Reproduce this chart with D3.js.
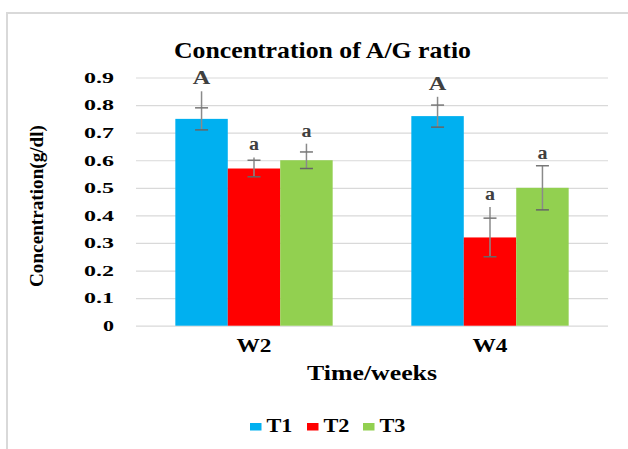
<!DOCTYPE html>
<html>
<head>
<meta charset="utf-8">
<script src="https://cdn.jsdelivr.net/npm/d3@7"></script>
<style>
  body { margin: 0; background: #fff; }
  svg text { font-family: "Liberation Serif", "DejaVu Serif", "Noto Serif", serif !important; font-weight: bold; }
</style>
</head>
<body>
<script>
// data
const weeks = ['W2', 'W4'];
const treatments = ['T1', 'T2', 'T3'];
const colors = ['#00B0F0', '#FF0000', '#92D050'];
const meanT1 = [0.75, 0.76];
const meanT2 = [0.57, 0.32];
const meanT3 = [0.60, 0.50];
// error bars: whisker top, upper cap, lower cap
const topT1 = [0.85, 0.83];
const topT2 = [0.61, 0.43];
const topT3 = [0.66, 0.58];
const hiT1 = [0.79, 0.80];
const hiT2 = [0.60, 0.39];
const hiT3 = [0.63, 0.58];
const loT1 = [0.71, 0.72];
const loT2 = [0.54, 0.25];
const loT3 = [0.57, 0.42];
const lettersT1 = ['A', 'A'];
const lettersT2 = ['a', 'a'];
const lettersT3 = ['a', 'a'];
const yTicks = [0, 0.1, 0.2, 0.3, 0.4, 0.5, 0.6, 0.7, 0.8, 0.9];

const means = [meanT1, meanT2, meanT3];
const tops = [topT1, topT2, topT3];
const his = [hiT1, hiT2, hiT3];
const los = [loT1, loT2, loT3];
const letters = [lettersT1, lettersT2, lettersT3];

// flat table of bars
let bars = [];
weeks.forEach((w, i) => {
  treatments.forEach((t, j) => {
    bars.push({ week: w, t: t, color: colors[j], value: means[j][i],
      top: tops[j][i], hi: his[j][i], lo: los[j][i], letter: letters[j][i] });
  });
});

const W = 628, H = 449;
const plot = { left: 136, right: 608, top: 77.5, bottom: 325.7 };

// the source picture is stretched sideways, so force the text widths
function fit(sel, width) {
  sel.attr('textLength', width).attr('lengthAdjust', 'spacingAndGlyphs');
}

const svg = d3.select('body').append('svg')
  .attr('width', W).attr('height', H);

// chart frame (runs off the right and bottom edge)
svg.append('rect')
  .attr('x', 7).attr('y', 13)
  .attr('width', W + 20).attr('height', H + 20)
  .attr('fill', '#fff').attr('stroke', '#d9d9d9').attr('stroke-width', 2);

const y = d3.scaleLinear().domain([0, 0.9]).range([plot.bottom, plot.top]);
const x0 = d3.scaleBand().domain(weeks).range([plot.left, plot.right]);
const x1 = d3.scaleBand().domain(treatments).range([0, x0.bandwidth()]).paddingOuter(0.75);

// gridlines + tick labels
const yAxis = svg.append('g')
  .attr('transform', `translate(${plot.left},0)`)
  .call(d3.axisLeft(y).tickValues(yTicks)
    .tickSize(-(plot.right - plot.left))
    .tickPadding(22)
    .tickFormat(d => d === 0 ? '0' : d3.format('.1f')(d)));
yAxis.select('.domain').remove();
yAxis.selectAll('.tick line').attr('stroke', '#d9d9d9').attr('stroke-width', 1.2);
yAxis.selectAll('.tick text')
  .attr('font-size', 15).attr('fill', '#000')
  .call(fit, d => d === 0 ? 11 : 30);

// bars
svg.append('g').selectAll('rect')
  .data(bars).enter().append('rect')
  .attr('x', d => x0(d.week) + x1(d.t))
  .attr('y', d => y(d.value))
  .attr('width', x1.bandwidth())
  .attr('height', d => y(0) - y(d.value))
  .attr('fill', d => d.color);

// error bars
const err = svg.append('g').selectAll('g')
  .data(bars).enter().append('g')
  .attr('transform', d => `translate(${x0(d.week) + x1(d.t) + x1.bandwidth() / 2},0)`);
err.append('line')
  .attr('y1', d => y(d.top)).attr('y2', d => y(d.lo))
  .attr('stroke', '#8a8a8a').attr('stroke-width', 1.5);
err.append('line')
  .attr('x1', -6.5).attr('x2', 6.5)
  .attr('y1', d => y(d.hi)).attr('y2', d => y(d.hi))
  .attr('stroke', '#777').attr('stroke-width', 1.5);
err.append('line')
  .attr('x1', -6.5).attr('x2', 6.5)
  .attr('y1', d => y(d.lo)).attr('y2', d => y(d.lo))
  .attr('stroke', '#666').attr('stroke-width', 1.5);
err.append('text')
  .attr('y', d => y(d.top) - 7)
  .attr('text-anchor', 'middle')
  .attr('font-size', 18).attr('fill', '#404040')
  .text(d => d.letter)
  .call(fit, d => d.letter === 'A' ? 17.5 : 10);

// category labels
svg.append('g').selectAll('text')
  .data(weeks).enter().append('text')
  .attr('x', d => x0(d) + x0.bandwidth() / 2)
  .attr('y', 351.5)
  .attr('text-anchor', 'middle')
  .attr('font-size', 18)
  .text(d => d)
  .call(fit, 35);

// title
svg.append('text')
  .attr('x', 322.5).attr('y', 58)
  .attr('text-anchor', 'middle')
  .attr('font-size', 23)
  .text('Concentration of A/G ratio')
  .call(fit, 297);

// axis titles
svg.append('text')
  .attr('x', 372).attr('y', 380)
  .attr('text-anchor', 'middle')
  .attr('font-size', 20)
  .text('Time/weeks')
  .call(fit, 130);

svg.append('text')
  .attr('transform', 'translate(43,206) rotate(-90)')
  .attr('text-anchor', 'middle')
  .attr('font-size', 19)
  .text('Concentration(g/dl)')
  .call(fit, 162);

// legend
const legendX = [250, 307, 363];
const legend = svg.append('g').selectAll('g')
  .data(treatments).enter().append('g')
  .attr('transform', (d, i) => `translate(${legendX[i]},0)`);
legend.append('rect')
  .attr('x', 0).attr('y', 423)
  .attr('width', 11.5).attr('height', 7.5)
  .attr('fill', (d, i) => colors[i]);
legend.append('text')
  .attr('x', 16.5).attr('y', 432)
  .attr('font-size', 19)
  .text(d => d)
  .call(fit, 26);
</script>
</body>
</html>
